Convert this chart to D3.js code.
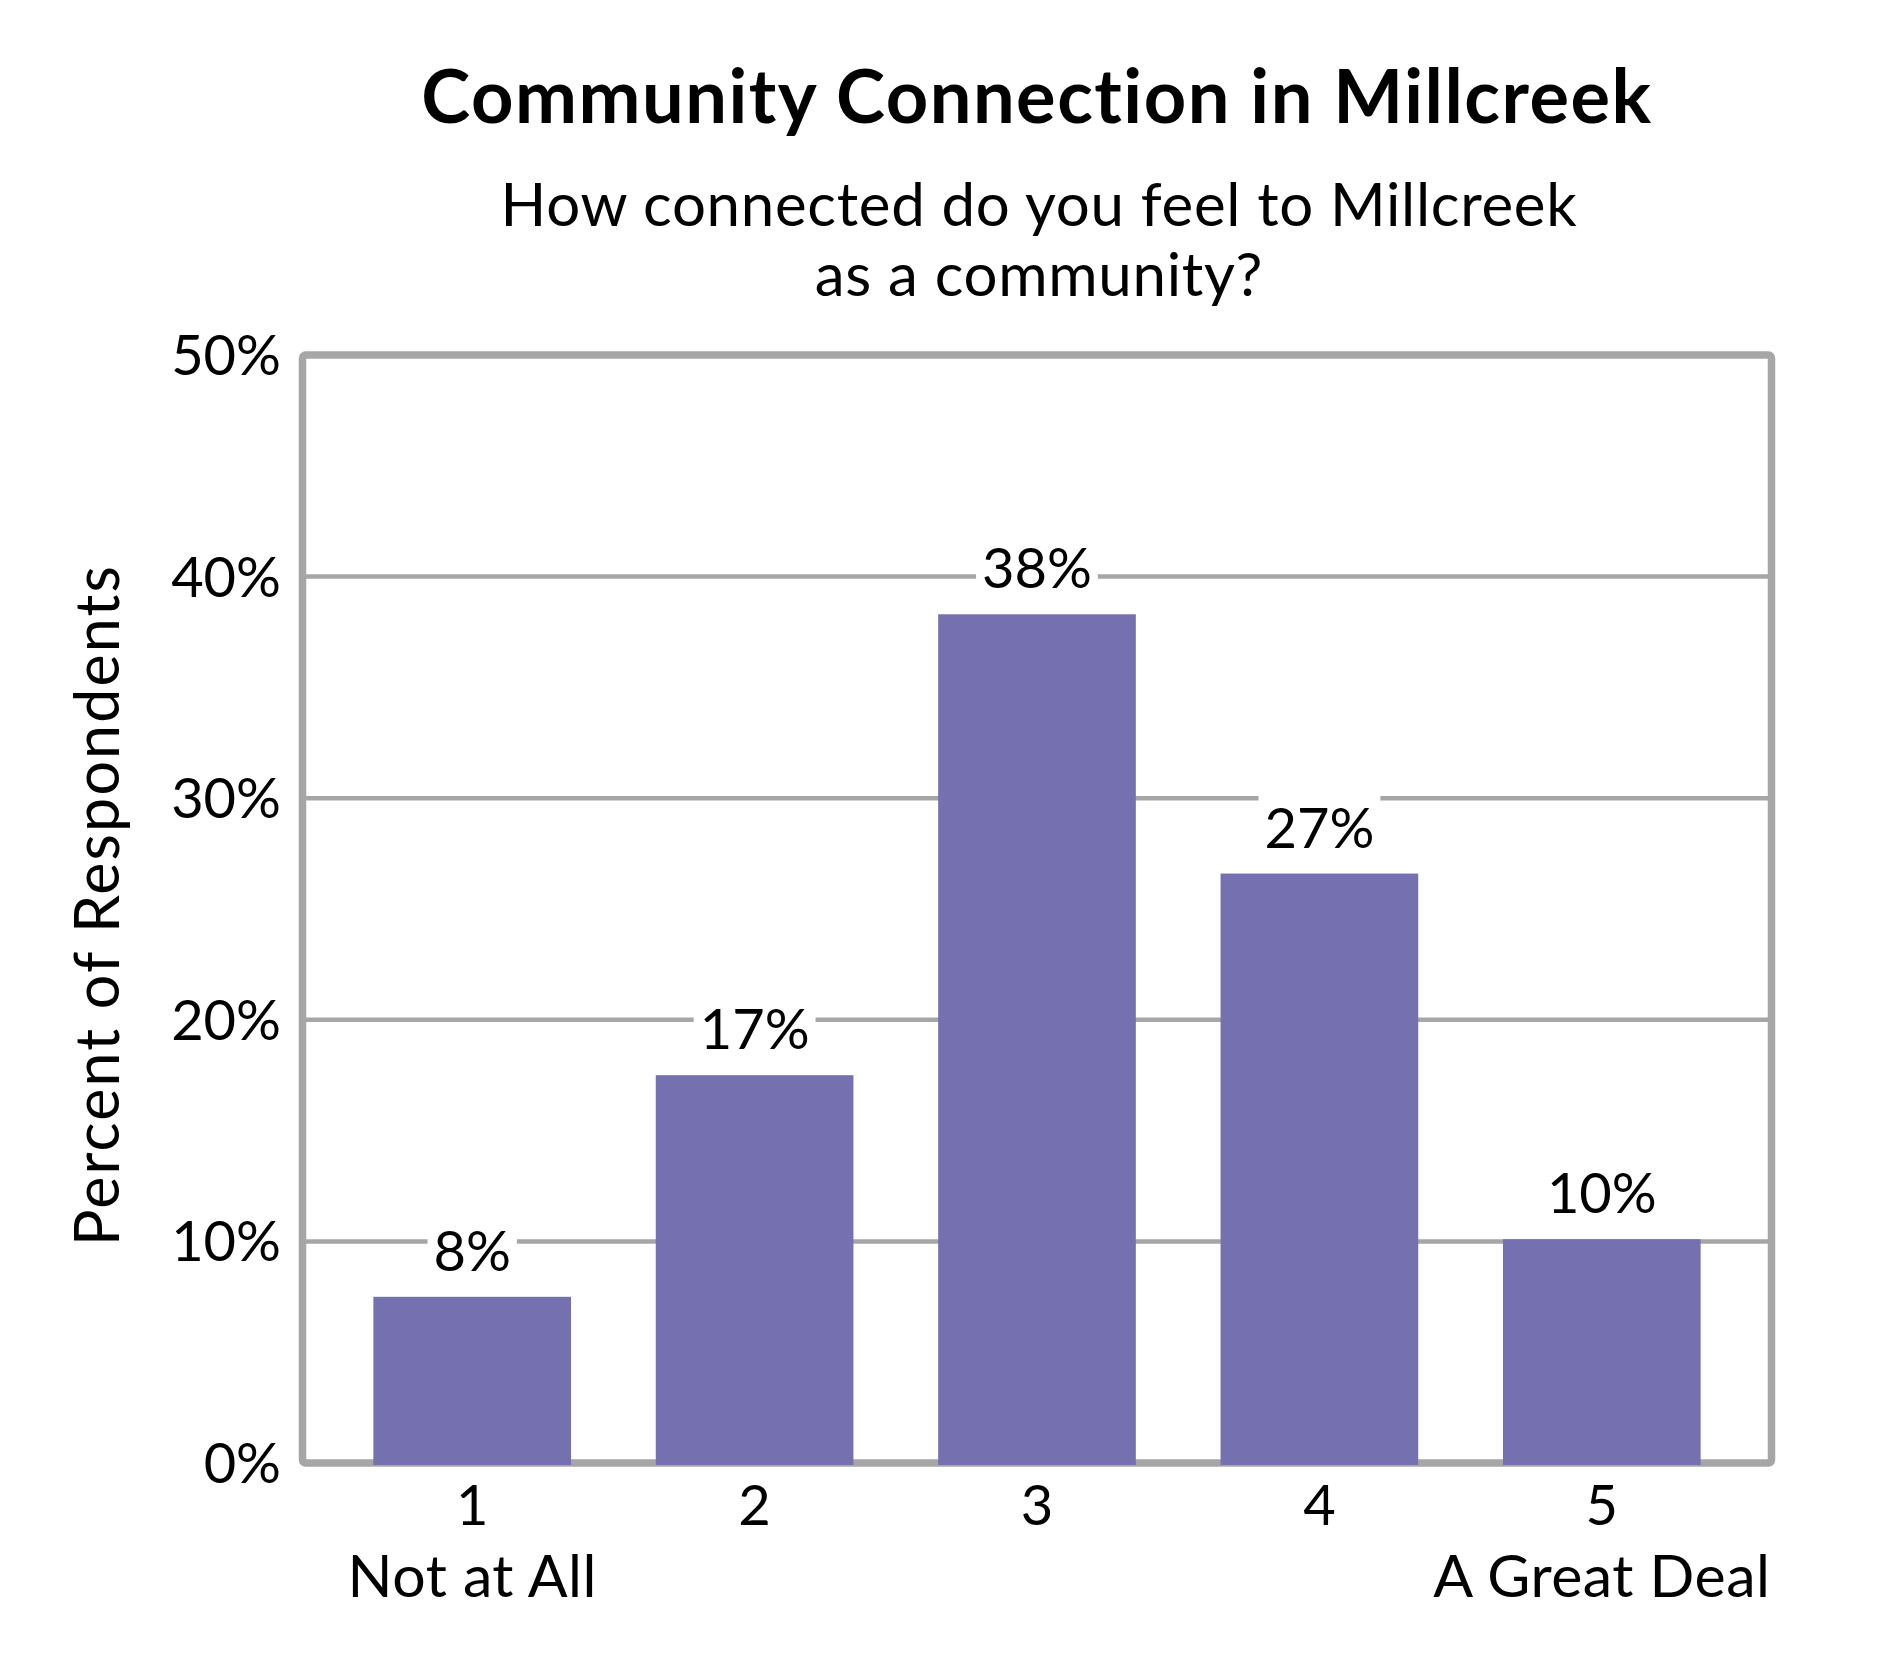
<!DOCTYPE html>
<html>
<head>
<meta charset="utf-8">
<script src="https://cdn.jsdelivr.net/npm/d3@7"></script>
<style>
    body { margin: 0; background: #fff; }
    text { font-family: Lato, "Noto Sans", sans-serif; fill: #000; }
</style>
</head>
<body>
<div id="chart-area"></div>
<script>
// chart data
var categories = ["1", "2", "3", "4", "5"];
var categoryNotes = ["Not at All", "", "", "", "A Great Deal"];
var percents = [7.5, 17.5, 38.3, 26.6, 10.1];
var percentLabels = ["8%", "17%", "38%", "27%", "10%"];
var yTicks = [0, 10, 20, 30, 40, 50];

var titleText = "Community Connection in Millcreek";
var subtitleLines = ["How connected do you feel to Millcreek", "as a community?"];
var yTitle = "Percent of Respondents";

// dimensions
var svgWidth = 1890, svgHeight = 1680;
var frame = { left: 302.5, right: 1771.5, top: 355, bottom: 1463 };

var svg = d3.select("#chart-area").append("svg")
    .attr("width", svgWidth)
    .attr("height", svgHeight);

// scales
var x = d3.scaleBand()
    .domain(categories)
    .range([331, 1743])
    .paddingInner(0.3)
    .paddingOuter(0.15);

var y = d3.scaleLinear()
    .domain([0, 50])
    .range([frame.bottom, frame.top]);

var grey = "#a6a6a6";

// gridlines
svg.append("g").selectAll("line")
    .data(yTicks.filter(function(d) { return d > 0 && d < 50; }))
    .enter().append("line")
    .attr("x1", frame.left)
    .attr("x2", frame.right)
    .attr("y1", function(d) { return y(d); })
    .attr("y2", function(d) { return y(d); })
    .attr("stroke", grey)
    .attr("stroke-width", 4.5);

// plot frame
svg.append("rect")
    .attr("x", frame.left)
    .attr("y", frame.top)
    .attr("width", frame.right - frame.left)
    .attr("height", frame.bottom - frame.top)
    .attr("rx", 3)
    .attr("fill", "none")
    .attr("stroke", grey)
    .attr("stroke-width", 7.5);

// bars
svg.append("g").selectAll("rect")
    .data(percents)
    .enter().append("rect")
    .attr("x", function(d, i) { return x(categories[i]); })
    .attr("width", x.bandwidth())
    .attr("y", function(d) { return y(d); })
    .attr("height", function(d) { return y(0) - y(d) + 2; })
    .attr("fill", "#7571b0");

// value labels with white backing
var labels = svg.append("g").selectAll("g")
    .data(percents)
    .enter().append("g")
    .attr("transform", function(d, i) {
        return "translate(" + (x(categories[i]) + x.bandwidth() / 2) + "," + (y(d) - 26) + ")";
    });

labels.append("text")
    .attr("text-anchor", "middle")
    .attr("font-size", 56)
    .text(function(d, i) { return percentLabels[i]; })
    .each(function() {
        var b = this.getBBox();
        d3.select(this.parentNode).insert("rect", "text")
            .attr("x", b.x - 6)
            .attr("y", b.y)
            .attr("width", b.width + 12)
            .attr("height", b.height)
            .attr("fill", "#fff");
    });

// y tick labels
svg.append("g").selectAll("text")
    .data(yTicks)
    .enter().append("text")
    .attr("x", 281)
    .attr("y", function(d) { return y(d) + 20; })
    .attr("text-anchor", "end")
    .attr("font-size", 56)
    .text(function(d) { return d + "%"; });

// x category labels
var xLabels = svg.append("g").selectAll("g")
    .data(categories)
    .enter().append("g")
    .attr("transform", function(d) { return "translate(" + (x(d) + x.bandwidth() / 2) + ",0)"; });

xLabels.append("text")
    .attr("y", 1525)
    .attr("text-anchor", "middle")
    .attr("font-size", 56)
    .text(function(d) { return d; });

xLabels.append("text")
    .attr("y", 1597)
    .attr("text-anchor", "middle")
    .attr("font-size", 59)
    .attr("letter-spacing", 0.5)
    .text(function(d, i) { return categoryNotes[i]; });

// titles
svg.append("text")
    .attr("x", 1037)
    .attr("y", 123)
    .attr("text-anchor", "middle")
    .attr("font-size", 74)
    .attr("letter-spacing", 1.5)
    .attr("font-weight", "bold")
    .text(titleText);

svg.append("g").selectAll("text")
    .data(subtitleLines)
    .enter().append("text")
    .attr("x", 1039)
    .attr("y", function(d, i) { return 226 + i * 70; })
    .attr("text-anchor", "middle")
    .attr("font-size", 60)
    .attr("letter-spacing", 0.7)
    .text(function(d) { return d; });

// y axis title
svg.append("text")
    .attr("transform", "translate(119," + ((frame.top + frame.bottom) / 2 - 4) + ") rotate(-90)")
    .attr("text-anchor", "middle")
    .attr("font-size", 61)
    .attr("letter-spacing", 2.1)
    .text(yTitle);
</script>
</body>
</html>
